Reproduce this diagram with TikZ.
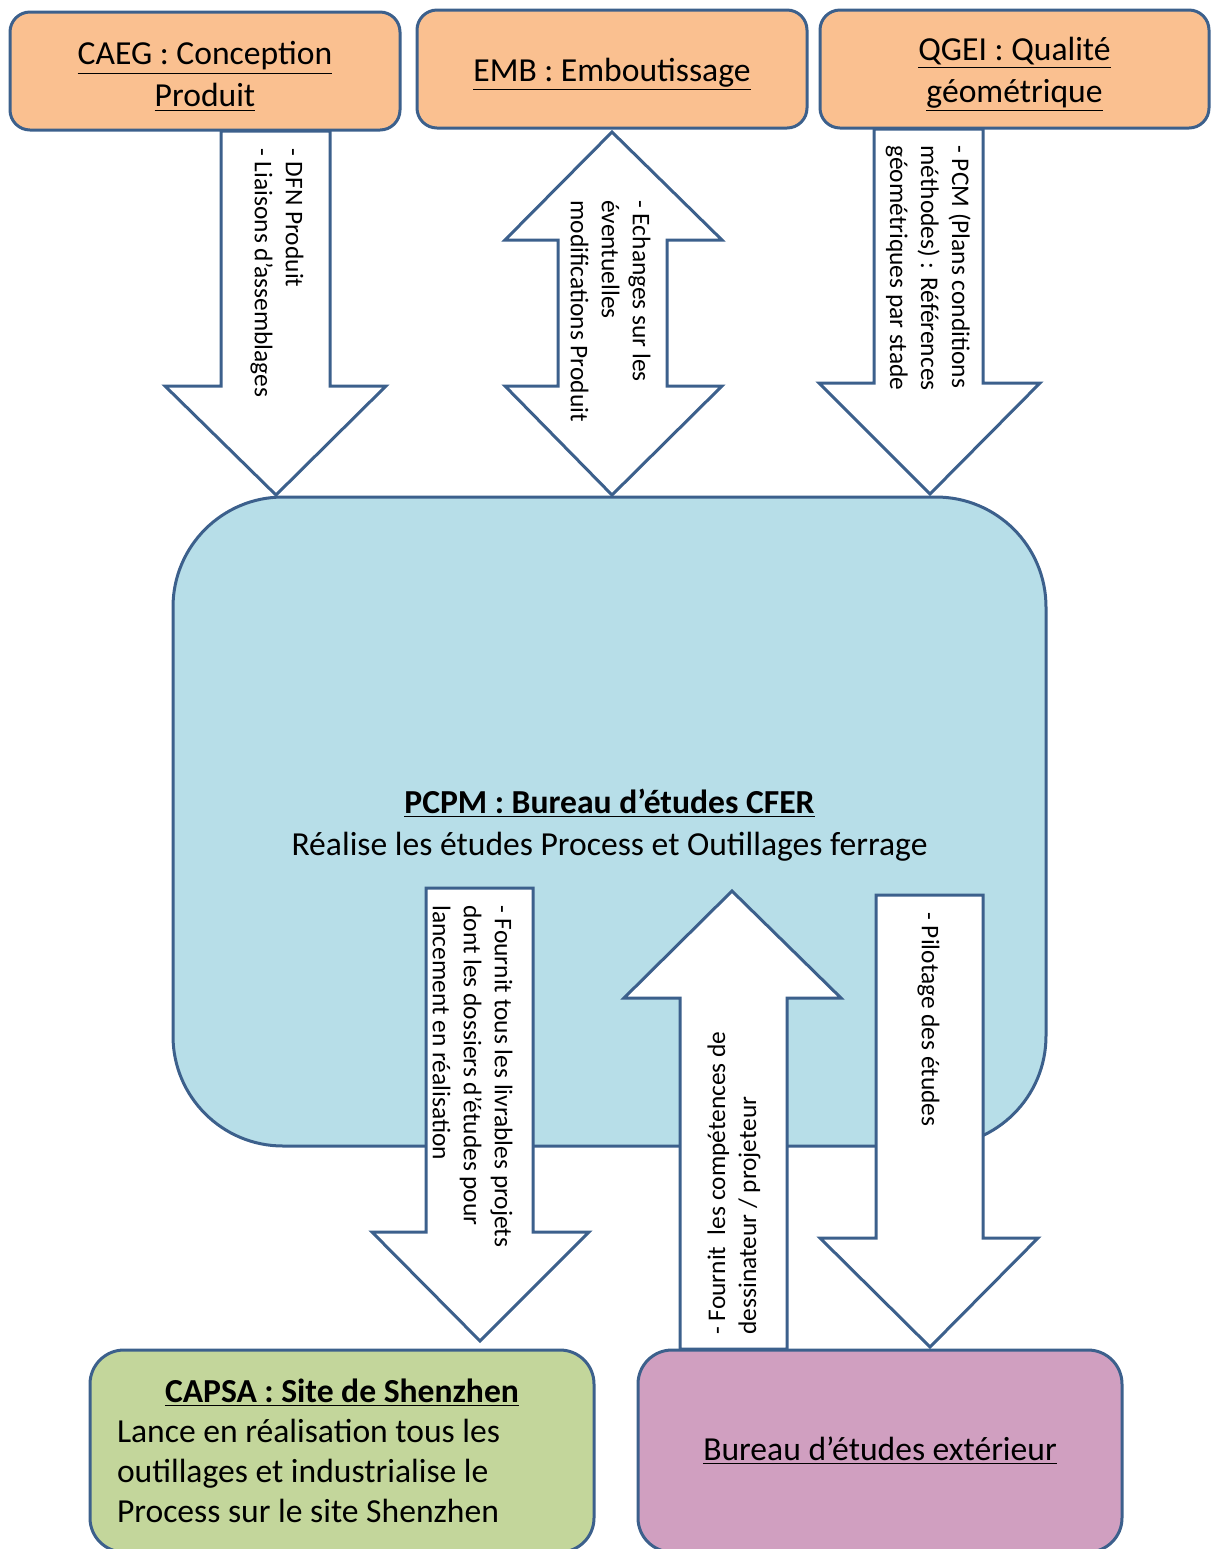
\documentclass[tikz,border=0pt]{standalone}
\usepackage{fontspec}
\setmainfont{Carlito}
\usepackage{tikz}
\usetikzlibrary{positioning}

\definecolor{edgeblue}{RGB}{60,96,140}
\definecolor{orangefill}{RGB}{250,192,144}
\definecolor{aquafill}{RGB}{183,222,232}
\definecolor{olivefill}{RGB}{195,214,155}
\definecolor{pinkfill}{RGB}{208,159,192}

\newcommand{\boxfont}{\fontsize{16.8}{21}\selectfont}
\newcommand{\arrfont}{\fontsize{12.7}{15.5}\selectfont}
\newcommand{\topstrut}{\rule{0pt}{17pt}}

\tikzset{
    unitbox/.style={draw=edgeblue, line width=1.5pt, align=center,
        font=\boxfont, inner sep=0pt},
    bigarrow/.style={draw=edgeblue, fill=white, line width=1.5pt},
    arrtext/.style={font=\arrfont, align=flush left, inner sep=0pt, anchor=north west}
}

\begin{document}
\begin{tikzpicture}[x=0.5pt,y=-0.5pt]

\useasboundingbox (0,0) rectangle (1211,1549);

% top boxes
\node[unitbox, fill=orangefill, rounded corners=10pt,
      minimum width=195pt, minimum height=59pt] (caeg) at (205,71)
      {\topstrut\underline{CAEG : Conception}\\\underline{Produit}};
\node[unitbox, fill=orangefill, rounded corners=10pt,
      minimum width=195pt, minimum height=59pt] (emb) at (612,69)
      {\topstrut\underline{EMB : Emboutissage}};
\node[unitbox, fill=orangefill, rounded corners=10pt,
      minimum width=194.5pt, minimum height=59pt] (qgei) at (1014.5,69)
      {\topstrut\underline{QGEI : Qualité}\\\underline{géométrique}};

% central box
\node[unitbox, fill=aquafill, rounded corners=55pt,
      minimum width=436.5pt, minimum height=324.5pt] (pcpm) at (609.5,821.5)
      {\rule{0pt}{15.5pt}\textbf{\underline{PCPM : Bureau d’études CFER}}\\
       Réalise les études Process et Outillages ferrage};

% bottom boxes
\node[unitbox, fill=olivefill, rounded corners=17pt, align=flush left,
      font=\fontsize{16.8}{20}\selectfont,
      text width=225pt, minimum width=252pt, minimum height=101pt] (capsa) at (342,1451)
      {{\centering\textbf{\underline{CAPSA : Site de Shenzhen}}\par}
       Lance en réalisation tous les\\
       outillages et industrialise le\\
       Process sur le site Shenzhen};
\node[unitbox, fill=pinkfill, rounded corners=17pt,
      minimum width=242pt, minimum height=101pt] (bext) at (880,1451)
      {\underline{Bureau d’études extérieur}};

% CAEG -> PCPM
\draw[bigarrow]
(221,131)--(221,386)--(165,386)--(276,495)--
(386,386)--(330,386)--(330,131)--cycle;

% EMB <-> PCPM
\draw[bigarrow]
(612,132)--(722,240)--(667,240)--(667,386)--(722,386)--
(612,495)--(505,386)--(558,386)--(558,240)--(505,240)--cycle;

% QGEI -> PCPM
\draw[bigarrow]
(874,129)--(874,383)--(819,383)--(930,494)--
(1040,383)--(983,383)--(983,129)--cycle;

% PCPM -> CAPSA
\draw[bigarrow]
(426,888)--(426,1232)--(372,1232)--(480,1341)--
(589,1232)--(533,1232)--(533,888)--cycle;

% Bureau exterieur -> PCPM
\draw[bigarrow]
(680,1349)--(680,998)--(624,998)--(732,891)--
(841,998)--(787,998)--(787,1349)--cycle;

% PCPM -> Bureau exterieur
\draw[bigarrow]
(876,895)--(876,1238)--(820,1238)--(930,1347)--
(1038,1238)--(983,1238)--(983,895)--cycle;

% arrow texts
\node[arrtext, rotate=-90] (t-caeg) at (304,148)
    {- DFN Produit\\- Liaisons d’assemblages};
\node[arrtext, rotate=-90] (t-emb) at (651,200)
    {- Echanges sur les\\éventuelles\\modifications Produit};
\node[arrtext, rotate=-90] (t-qgei) at (971,145)
    {- PCM (Plans conditions\\méthodes) : Références\\géométriques par stade};
\node[arrtext, rotate=-90] (t-capsa) at (513,905)
    {- Fournit tous les livrables projets\\dont les dossiers d’études pour\\lancement en réalisation};
\node[arrtext, rotate=90] (t-bext) at (707,1335)
    {- Fournit\ \ les compétences de\\dessinateur / projeteur};
\node[arrtext, rotate=-90] (t-pilot) at (940,912)
    {- Pilotage des études};

\end{tikzpicture}
\end{document}
